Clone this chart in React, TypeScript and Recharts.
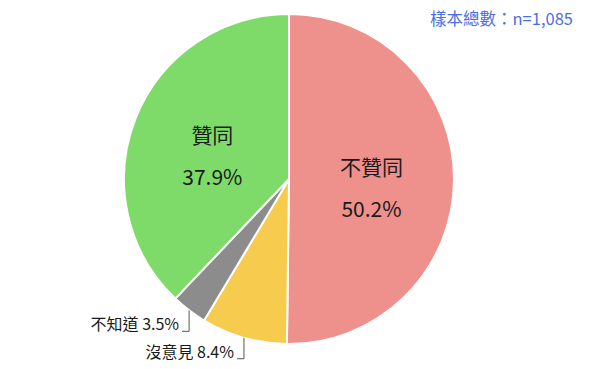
import { PieChart, Pie, Cell } from "recharts";

const categories = ["不贊同", "沒意見", "不知道", "贊同"];
const shares = [50.2, 8.4, 3.5, 37.9];
const colors = ["#EE908C", "#F7CB4D", "#8C8C8C", "#7EDB6A"];
// small slices get an outside label with a leader line
const outside = [false, true, true, false];

const sampleNote = "樣本總數：n=1,085";

const data = categories.map((name, i) => ({ name, value: shares[i] }));

const RAD = Math.PI / 180;
const FONT = "'Noto Sans CJK TC', 'Noto Sans', sans-serif";

function renderLabel(props: any) {
  const { cx, cy, midAngle, outerRadius, index } = props;
  const cos = Math.cos(-midAngle * RAD);
  const sin = Math.sin(-midAngle * RAD);
  const name = categories[index];
  const pct = shares[index].toFixed(1) + "%";

  if (outside[index]) {
    const sx = cx + outerRadius * cos;
    const sy = cy + outerRadius * sin;
    const ey = sy + 21;
    const ex = sx - 7;
    return (
      <g>
        <polyline
          points={`${sx},${sy} ${sx},${ey} ${ex},${ey}`}
          fill="none"
          stroke="#555"
          strokeWidth={1}
        />
        <text
          x={ex - 3}
          y={ey - 1}
          textAnchor="end"
          fontSize={16}
          fill="#1a1a1a"
          fontFamily={FONT}
        >
          {`${name} ${pct}`}
        </text>
      </g>
    );
  }

  const r = outerRadius * 0.5;
  const x = cx + r * cos;
  const y = cy + r * sin + 7;
  return (
    <g>
      <text
        x={x}
        y={y - 21}
        textAnchor="middle"
        dominantBaseline="central"
        fontSize={21}
        fill="#1a1a1a"
        fontFamily={FONT}
      >
        {name}
      </text>
      <text
        x={x}
        y={y + 21}
        textAnchor="middle"
        dominantBaseline="central"
        fontSize={21}
        fill="#1a1a1a"
        fontFamily={FONT}
      >
        {pct}
      </text>
    </g>
  );
}

export default function App() {
  return (
    <div style={{ position: "absolute", left: 0, top: 0, width: 600, height: 369, background: "#fff" }}>
      <PieChart width={600} height={369} margin={{ top: 0, right: 0, bottom: 0, left: 0 }}>
        <Pie
          data={data}
          dataKey="value"
          nameKey="name"
          cx={289}
          cy={179}
          outerRadius={165}
          startAngle={90}
          endAngle={-270}
          stroke="#fff"
          strokeWidth={2}
          label={renderLabel}
          labelLine={false}
          isAnimationActive={false}
        >
          {data.map((d, i) => (
            <Cell key={d.name} fill={colors[i]} />
          ))}
        </Pie>
        <text
          x={573}
          y={18}
          textAnchor="end"
          dominantBaseline="central"
          fontSize={16.5}
          fill="#4A6FE3"
          fontFamily={FONT}
        >
          {sampleNote}
        </text>
      </PieChart>
    </div>
  );
}
